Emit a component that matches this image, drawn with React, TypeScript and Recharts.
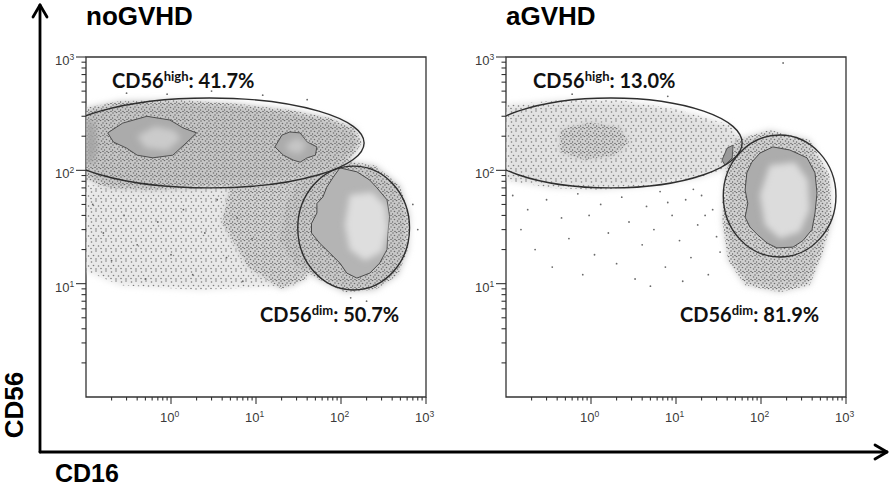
import React from "react";
import { ScatterChart, Scatter, XAxis, YAxis, ReferenceArea } from "recharts";

type Pt = { x: number; y: number };

// ---------- axes ----------
const xDecades = [1, 10, 100, 1000];
const xMinor = [
  0.2, 0.3, 0.4, 0.5, 0.6, 0.7, 0.8, 0.9, 2, 3, 4, 5, 6, 7, 8, 9, 20, 30, 40, 50, 60, 70, 80, 90,
  200, 300, 400, 500, 600, 700, 800, 900,
];
const yDecades = [10, 100, 1000];
const yMinor = [2, 3, 4, 5, 6, 7, 8, 9, 20, 30, 40, 50, 60, 70, 80, 90, 200, 300, 400, 500, 600, 700, 800, 900];
const exponentOf: Record<number, string> = { 1: "0", 10: "1", 100: "2", 1000: "3" };

// ---------- noGVHD (CD16 x, CD56 y) ----------
const noLowerCloud: Pt[] = [
  { x: 0.1, y: 74 }, { x: 25, y: 74 }, { x: 40, y: 40 }, { x: 30, y: 9.7 },
  { x: 2.2, y: 8.8 }, { x: 0.25, y: 9.7 }, { x: 0.1, y: 13 },
];
const noTail: Pt[] = [
  { x: 5, y: 75 }, { x: 33, y: 90 }, { x: 45, y: 40 }, { x: 40, y: 11 },
  { x: 20, y: 9 }, { x: 8, y: 14 }, { x: 4, y: 35 },
];
const noBand: Pt[] = [
  { x: 0.1, y: 355 }, { x: 0.25, y: 410 }, { x: 1.27, y: 418 }, { x: 6.4, y: 385 },
  { x: 25, y: 340 }, { x: 74, y: 290 }, { x: 146, y: 236 }, { x: 177, y: 174 },
  { x: 127, y: 123 }, { x: 56, y: 97 }, { x: 25, y: 82 }, { x: 8.3, y: 74 },
  { x: 2.2, y: 70 }, { x: 0.57, y: 67 }, { x: 0.19, y: 70 }, { x: 0.1, y: 82 },
];
const noEdgeBlob: Pt[] = [
  { x: 0.1, y: 110 }, { x: 0.1, y: 300 }, { x: 0.125, y: 260 }, { x: 0.135, y: 160 }, { x: 0.12, y: 115 },
];
const noContourA: Pt[] = [
  { x: 0.18, y: 214 }, { x: 0.27, y: 261 }, { x: 0.52, y: 300 }, { x: 0.97, y: 278 },
  { x: 1.4, y: 236 }, { x: 2.0, y: 214 }, { x: 1.5, y: 174 }, { x: 1.05, y: 136 },
  { x: 0.61, y: 129 }, { x: 0.4, y: 136 }, { x: 0.3, y: 157 }, { x: 0.21, y: 178 },
];
const noCoreA: Pt[] = [
  { x: 0.4, y: 200 }, { x: 0.65, y: 245 }, { x: 1.1, y: 225 }, { x: 1.3, y: 190 },
  { x: 0.9, y: 150 }, { x: 0.5, y: 158 },
];
const noContourB: Pt[] = [
  { x: 16.7, y: 161 }, { x: 20.2, y: 205 }, { x: 25, y: 218 }, { x: 33, y: 214 },
  { x: 40, y: 178 }, { x: 52, y: 161 }, { x: 50, y: 136 }, { x: 40, y: 129 },
  { x: 33, y: 118 }, { x: 27.5, y: 123 }, { x: 21, y: 136 },
];
const noCoreB: Pt[] = [
  { x: 22, y: 165 }, { x: 30, y: 195 }, { x: 40, y: 170 }, { x: 33, y: 140 }, { x: 25, y: 145 },
];
const noDimCloud: Pt[] = [
  { x: 33, y: 91 }, { x: 97, y: 123 }, { x: 251, y: 111 }, { x: 490, y: 74 },
  { x: 640, y: 40 }, { x: 614, y: 20 }, { x: 468, y: 11.9 }, { x: 251, y: 8.8 },
  { x: 111, y: 8.4 }, { x: 56, y: 10.8 }, { x: 29, y: 14.6 }, { x: 19, y: 24 }, { x: 22, y: 49 },
];
const noDimContour: Pt[] = [
  { x: 97, y: 105 }, { x: 154, y: 97 }, { x: 218, y: 82 }, { x: 265, y: 70 },
  { x: 348, y: 55 }, { x: 373, y: 39 }, { x: 355, y: 28 }, { x: 348, y: 20 },
  { x: 285, y: 15.2 }, { x: 218, y: 12.4 }, { x: 154, y: 11.2 }, { x: 117, y: 12.4 },
  { x: 97, y: 15.2 }, { x: 74, y: 18.6 }, { x: 56, y: 22.8 }, { x: 45, y: 28 },
  { x: 45, y: 34 }, { x: 52, y: 42 }, { x: 52, y: 51 }, { x: 61, y: 58 },
  { x: 68, y: 71 }, { x: 81, y: 87 },
];
const noDimCore: Pt[] = [
  { x: 127, y: 60.5 }, { x: 232, y: 64 }, { x: 330, y: 49 }, { x: 355, y: 30 },
  { x: 303, y: 19 }, { x: 191, y: 16 }, { x: 127, y: 20 }, { x: 111, y: 33 },
];
const noStray: Pt[] = [
  { x: 0.3, y: 480 }, { x: 0.9, y: 470 }, { x: 3, y: 500 }, { x: 12, y: 460 }, { x: 40, y: 420 },
  { x: 700, y: 50 }, { x: 800, y: 30 }, { x: 200, y: 7 }, { x: 130, y: 7.5 },
  { x: 0.12, y: 50 }, { x: 0.16, y: 28 }, { x: 0.2, y: 16 }, { x: 0.28, y: 40 }, { x: 0.4, y: 22 },
  { x: 0.5, y: 11 }, { x: 0.7, y: 35 }, { x: 1, y: 18 }, { x: 1.4, y: 45 }, { x: 1.8, y: 12 },
  { x: 2.5, y: 28 }, { x: 3.5, y: 55 }, { x: 4.5, y: 17 }, { x: 6, y: 38 }, { x: 7, y: 10.5 }, { x: 9, y: 25 },
];
const noHighGate: Pt[] = [{ x: 0.043, y: 70 }, { x: 187, y: 435 }];
const noDimGate: Pt[] = [{ x: 31, y: 8.8 }, { x: 640, y: 109 }];

// ---------- aGVHD ----------
const aBand: Pt[] = [
  { x: 0.1, y: 377 }, { x: 0.43, y: 418 }, { x: 2.2, y: 418 }, { x: 11, y: 340 },
  { x: 43, y: 251 }, { x: 65, y: 167 }, { x: 50, y: 111 }, { x: 19, y: 86 },
  { x: 4.9, y: 73 }, { x: 1.27, y: 67 }, { x: 0.33, y: 70 }, { x: 0.1, y: 82 },
];
const aBandCore: Pt[] = [
  { x: 0.43, y: 227 }, { x: 0.97, y: 267 }, { x: 2.2, y: 236 }, { x: 2.8, y: 178 },
  { x: 1.9, y: 136 }, { x: 0.85, y: 123 }, { x: 0.43, y: 145 },
];
const aBandSpot: Pt[] = [
  { x: 40, y: 157 }, { x: 47, y: 167 }, { x: 45.8, y: 129 }, { x: 37.7, y: 111 }, { x: 34.8, y: 123 },
];
const aDimCloud: Pt[] = [
  { x: 50, y: 185 }, { x: 127, y: 227 }, { x: 373, y: 185 }, { x: 640, y: 91 },
  { x: 684, y: 36 }, { x: 522, y: 17.9 }, { x: 373, y: 9.7 }, { x: 166, y: 8.4 },
  { x: 65, y: 9.7 }, { x: 41, y: 16 }, { x: 35, y: 36 }, { x: 38, y: 91 },
];
const aDimContour: Pt[] = [
  { x: 138, y: 161 }, { x: 218, y: 151 }, { x: 348, y: 129 }, { x: 432, y: 95 },
  { x: 456, y: 63 }, { x: 432, y: 42 }, { x: 398, y: 30 }, { x: 312, y: 24 },
  { x: 238, y: 21 }, { x: 154, y: 20.7 }, { x: 118, y: 22.8 }, { x: 92, y: 26.8 },
  { x: 74, y: 31.6 }, { x: 65, y: 38.7 }, { x: 70, y: 51 }, { x: 65, y: 67 },
  { x: 68, y: 95 }, { x: 78, y: 118 }, { x: 97, y: 142 },
];
const aDimCore: Pt[] = [
  { x: 127, y: 111 }, { x: 251, y: 118 }, { x: 355, y: 82 }, { x: 373, y: 45 },
  { x: 285, y: 28.5 }, { x: 166, y: 25 }, { x: 111, y: 33 }, { x: 97, y: 60.5 },
];
const aStray: Pt[] = [
  { x: 0.12, y: 60 }, { x: 0.15, y: 30 }, { x: 0.18, y: 45 }, { x: 0.22, y: 20 }, { x: 0.3, y: 55 },
  { x: 0.35, y: 14 }, { x: 0.45, y: 38 }, { x: 0.55, y: 25 }, { x: 0.7, y: 62 }, { x: 0.8, y: 12 },
  { x: 0.95, y: 40 }, { x: 1.1, y: 18 }, { x: 1.3, y: 50 }, { x: 1.6, y: 28 }, { x: 2, y: 15 },
  { x: 2.3, y: 58 }, { x: 2.8, y: 35 }, { x: 3.3, y: 11 }, { x: 4, y: 22 }, { x: 4.5, y: 48 },
  { x: 5.5, y: 30 }, { x: 6.5, y: 65 }, { x: 7.5, y: 14 }, { x: 9, y: 40 }, { x: 11, y: 24 },
  { x: 13, y: 55 }, { x: 15, y: 17 }, { x: 18, y: 33 }, { x: 20, y: 60 }, { x: 24, y: 12 },
  { x: 27, y: 45 }, { x: 30, y: 26 }, { x: 33, y: 19 }, { x: 36, y: 52 }, { x: 40, y: 31 },
  { x: 22, y: 40 }, { x: 16, y: 68 }, { x: 12, y: 10.5 }, { x: 8, y: 52 }, { x: 5, y: 9.5 },
  { x: 182, y: 885 }, { x: 0.6, y: 470 }, { x: 8, y: 450 },
];
const aHighGate: Pt[] = [{ x: 0.049, y: 70 }, { x: 60, y: 435 }];
const aDimGate: Pt[] = [{ x: 36, y: 17.2 }, { x: 762, y: 205 }];

// ---------- rendering helpers ----------
const FONT = "'Liberation Sans', Arial, sans-serif";
const NARROW = "'Liberation Sans Narrow', 'Liberation Sans', Arial, sans-serif";
const noDot = () => <g />;
const strayDot = (p: any) => <circle cx={p.cx} cy={p.cy} r={0.9} fill="#6a6a6a" />;

const polygon = (fill: string, stroke?: string, blur?: boolean) => (props: any) => {
  const pts: { x: number; y: number }[] = props.points || [];
  if (!pts.length) return <g />;
  const d = pts.map((p, i) => `${i ? "L" : "M"}${p.x.toFixed(1)},${p.y.toFixed(1)}`).join(" ") + "Z";
  return (
    <path
      d={d}
      fill={fill}
      stroke={stroke || "none"}
      strokeWidth={1}
      strokeLinejoin="round"
      filter={blur ? "url(#soft)" : undefined}
    />
  );
};

const gateLine = (props: any) => {
  const [a, b] = props.points || [];
  if (!a || !b) return <g />;
  return (
    <ellipse
      cx={(a.x + b.x) / 2}
      cy={(a.y + b.y) / 2}
      rx={Math.abs(b.x - a.x) / 2}
      ry={Math.abs(b.y - a.y) / 2}
      fill="none"
      stroke="#2e2e2e"
      strokeWidth={1.4}
    />
  );
};

const region = (key: string, data: Pt[], fill: string, stroke?: string, blur?: boolean) => (
  <Scatter
    key={key}
    data={data}
    line={polygon(fill, stroke, blur)}
    lineType="joint"
    shape={noDot}
    isAnimationActive={false}
  />
);

const XTick = (props: any) => {
  const { x, y, payload } = props;
  const major = xDecades.includes(payload.value);
  return (
    <g>
      <line x1={x} x2={x} y1={y} y2={y + (major ? 7 : 3.5)} stroke="#333" strokeWidth={1.1} />
      {major && (
        <text x={x - 11} y={y + 25} fontSize={13} fill="#3a3a3a" fontFamily={NARROW}>
          10
          <tspan dy={-5} fontSize={8.5}>
            {exponentOf[payload.value]}
          </tspan>
        </text>
      )}
    </g>
  );
};

const YTick = (props: any) => {
  const { x, y, payload } = props;
  const major = yDecades.includes(payload.value);
  return (
    <g>
      <line x1={x} x2={x - (major ? 10 : 4.5)} y1={y} y2={y} stroke="#333" strokeWidth={1.1} />
      {major && (
        <text x={x - 31} y={y + 8} fontSize={13} fill="#3a3a3a" fontFamily={NARROW}>
          10
          <tspan dy={-5} fontSize={8.5}>
            {exponentOf[payload.value]}
          </tspan>
        </text>
      )}
    </g>
  );
};

function Panel({ left, children }: { left: number; children: React.ReactNode }) {
  return (
    <div style={{ position: "absolute", left, top: 0 }}>
      <ScatterChart width={440} height={430} margin={{ top: 57, right: 14, bottom: 3, left: 46 }}>
        <XAxis
          type="number"
          dataKey="x"
          scale="log"
          domain={[0.1, 1000]}
          allowDataOverflow
          ticks={[...xMinor, ...xDecades]}
          interval={0}
          tick={XTick}
          tickLine={false}
          axisLine={false}
          tickSize={0}
          tickMargin={0}
          height={30}
        />
        <YAxis
          type="number"
          dataKey="y"
          scale="log"
          domain={[1, 1000]}
          allowDataOverflow
          ticks={[...yMinor, ...yDecades]}
          interval={0}
          tick={YTick}
          tickLine={false}
          axisLine={false}
          tickSize={0}
          tickMargin={0}
          width={40}
        />
        {children}
        <ReferenceArea x1={0.1} x2={1000} y1={1} y2={1000} fill="none" stroke="#333" strokeWidth={1.3} ifOverflow="visible" />
      </ScatterChart>
    </div>
  );
}

const annot = { fontFamily: "Lato, 'Open Sans', sans-serif", fontWeight: 700, fontSize: 20, fill: "#111" } as const;

function Annotation({ x, y, sup, value }: { x: number; y: number; sup: string; value: string }) {
  return (
    <text x={x} y={y} {...annot}>
      CD56
      <tspan dy={-7} fontSize={13}>
        {sup}
      </tspan>
      <tspan dy={7}>: {value}</tspan>
    </text>
  );
}

export default function App() {
  return (
    <div style={{ position: "absolute", left: 0, top: 0, width: 893, height: 489, background: "#fff", overflow: "hidden" }}>
      <svg width={0} height={0} style={{ position: "absolute" }}>
        <defs>
          <filter id="soft" x="-30%" y="-30%" width="160%" height="160%">
            <feGaussianBlur stdDeviation={3} />
          </filter>
          <pattern id="dotsSparse" width={10} height={10} patternUnits="userSpaceOnUse">
            {[[1.5, 2], [6, 1], [3.5, 5.5], [8.5, 6], [1, 8.5], [6, 9]].map(([cx, cy], i) => (
              <circle key={i} cx={cx} cy={cy} r={0.8} fill="#7a7a7a" />
            ))}
          </pattern>
          <pattern id="dotsMid" width={8} height={8} patternUnits="userSpaceOnUse">
            {[[1, 1], [4.5, 0.5], [7, 3], [2.5, 3.5], [5.5, 5], [0.5, 6], [3, 7.5], [7, 7.5]].map(([cx, cy], i) => (
              <circle key={i} cx={cx} cy={cy} r={0.8} fill="#6e6e6e" />
            ))}
          </pattern>
        </defs>
      </svg>

      <Panel left={0}>
        {region("lc", noLowerCloud, "#e8e8e8", undefined, true)}
        {region("lcp", noLowerCloud, "url(#dotsSparse)")}
        {region("tl", noTail, "#d2d2d2", undefined, true)}
        {region("tlp", noTail, "url(#dotsMid)")}
        {region("dc", noDimCloud, "#c8c8c8", undefined, true)}
        {region("dcp", noDimCloud, "url(#dotsMid)")}
        {region("bd", noBand, "#c6c6c6", undefined, true)}
        {region("bdp", noBand, "url(#dotsMid)")}
        {region("eb", noEdgeBlob, "#a4a4a4", undefined, true)}
        {region("ca", noContourA, "#ababab", "#4e4e4e")}
        {region("cra", noCoreA, "#cbcbcb", undefined, true)}
        {region("cb", noContourB, "#ababab", "#4e4e4e")}
        {region("crb", noCoreB, "#c6c6c6", undefined, true)}
        {region("dm", noDimContour, "#b4b4b4", "#4a4a4a")}
        {region("dmc", noDimCore, "#dedede", undefined, true)}
        <Scatter data={noStray} shape={strayDot} isAnimationActive={false} />
        <Scatter data={noHighGate} line={gateLine} lineType="joint" shape={noDot} isAnimationActive={false} />
        <Scatter data={noDimGate} line={gateLine} lineType="joint" shape={noDot} isAnimationActive={false} />
      </Panel>

      <Panel left={420}>
        {region("ab", aBand, "#e2e2e2", undefined, true)}
        {region("abp", aBand, "url(#dotsSparse)")}
        {region("abc", aBandCore, "#d0d0d0", undefined, true)}
        {region("abcp", aBandCore, "url(#dotsMid)")}
        {region("adc", aDimCloud, "#d0d0d0", undefined, true)}
        {region("adcp", aDimCloud, "url(#dotsMid)")}
        {region("as", aBandSpot, "#9a9a9a", "#555")}
        {region("adm", aDimContour, "#acacac", "#4a4a4a")}
        {region("admc", aDimCore, "#dcdcdc", undefined, true)}
        <Scatter data={aStray} shape={strayDot} isAnimationActive={false} />
        <Scatter data={aHighGate} line={gateLine} lineType="joint" shape={noDot} isAnimationActive={false} />
        <Scatter data={aDimGate} line={gateLine} lineType="joint" shape={noDot} isAnimationActive={false} />
      </Panel>

      <svg width={893} height={489} style={{ position: "absolute", left: 0, top: 0, pointerEvents: "none" }}>
        <g stroke="#000" strokeWidth={2.8} fill="none" strokeLinecap="round" strokeLinejoin="round">
          <path d="M40,452 L40,5" />
          <path d="M33,17 L40,5 L47,17" />
          <path d="M40,452 L887,452" />
          <path d="M875,445 L887,452 L875,459" />
        </g>
        <text x={86} y={25} fontFamily={FONT} fontWeight={700} fontSize={26} fill="#000">
          noGVHD
        </text>
        <text x={506} y={25} fontFamily={FONT} fontWeight={700} fontSize={26} fill="#000">
          aGVHD
        </text>
        <text x={55} y={482} fontFamily={FONT} fontWeight={700} fontSize={25} fill="#000">
          CD16
        </text>
        <text
          transform="translate(23,405) rotate(-90)"
          textAnchor="middle"
          fontFamily={FONT}
          fontWeight={700}
          fontSize={26}
          fill="#000"
        >
          CD56
        </text>
        <Annotation x={112} y={88} sup="high" value="41.7%" />
        <Annotation x={260} y={322} sup="dim" value="50.7%" />
        <Annotation x={533} y={88} sup="high" value="13.0%" />
        <Annotation x={680} y={322} sup="dim" value="81.9%" />
      </svg>
    </div>
  );
}
